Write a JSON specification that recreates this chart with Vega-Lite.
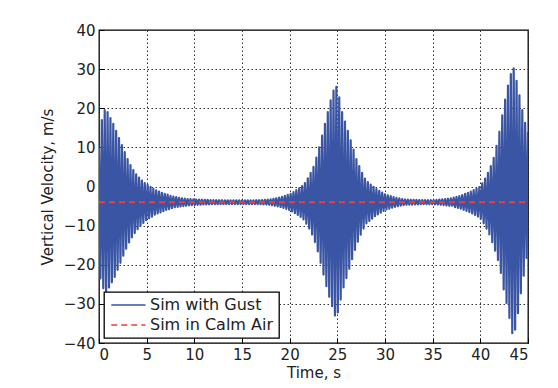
{
  "$schema": "https://vega.github.io/schema/vega-lite/v6.json",
  "width": 429,
  "height": 313,
  "autosize": {"type": "none"},
  "padding": {"left": 99, "top": 30, "right": 30, "bottom": 45},
  "background": "white",
  "config": {
    "font": "DejaVu Sans",
    "view": {"stroke": "#000", "strokeWidth": 1.3},
    "axis": {
      "grid": true, "gridColor": "#333", "gridDash": [1.5, 2.5], "gridOpacity": 1, "gridWidth": 1,
      "domain": false, "ticks": true, "tickColor": "#000", "tickSize": -5, "tickWidth": 1, "labelOverlap": false,
      "labelFont": "DejaVu Sans", "labelFontSize": 15, "labelColor": "#222",
      "titleFont": "DejaVu Sans", "titleFontSize": 15, "titleFontWeight": "normal", "titleColor": "#222"
    },
    "legend": {
      "orient": "bottom-left", "offset": 5, "fillColor": "white", "strokeColor": "#000", "strokeWidth": 1.3,
      "padding": 5, "labelFont": "DejaVu Sans", "labelFontSize": 16, "labelColor": "#222",
      "symbolType": "M-1,0H5", "symbolSize": 130, "symbolStrokeWidth": 1.6, "labelOffset": 25, "rowPadding": 4, "cornerRadius": 0
    }
  },
  "datasets": {
    "gust": [
      {"t":0,"v":10},{"t":0.15,"v":-23.5},{"t":0.3,"v":17},{"t":0.45,"v":-26},{"t":0.6,"v":19.5},{"t":0.75,"v":-26.8},{"t":0.9,"v":19},{"t":1.05,"v":-25.8},{"t":1.2,"v":17.5},{"t":1.35,"v":-24.5},
      {"t":1.5,"v":16},{"t":1.65,"v":-23.1},{"t":1.8,"v":14.2},{"t":1.95,"v":-21.3},{"t":2.1,"v":12.4},{"t":2.25,"v":-19.5},{"t":2.4,"v":10.6},{"t":2.55,"v":-17.7},{"t":2.7,"v":8.8},{"t":2.85,"v":-15.9},
      {"t":3,"v":7},{"t":3.15,"v":-14.3},{"t":3.3,"v":5.5},{"t":3.45,"v":-13},{"t":3.6,"v":4.2},{"t":3.75,"v":-11.9},{"t":3.9,"v":3.1},{"t":4.05,"v":-10.9},{"t":4.2,"v":2.3},{"t":4.35,"v":-10.1},
      {"t":4.5,"v":1.5},{"t":4.65,"v":-9.3},{"t":4.8,"v":0.9},{"t":4.95,"v":-8.6},{"t":5.1,"v":0.4},{"t":5.25,"v":-8.1},{"t":5.4,"v":-0.1},{"t":5.55,"v":-7.7},{"t":5.7,"v":-0.6},{"t":5.85,"v":-7.2},
      {"t":6,"v":-1},{"t":6.15,"v":-6.9},{"t":6.3,"v":-1.3},{"t":6.45,"v":-6.6},{"t":6.6,"v":-1.6},{"t":6.75,"v":-6.3},{"t":6.9,"v":-1.9},{"t":7.05,"v":-6},{"t":7.2,"v":-2.1},{"t":7.35,"v":-5.8},
      {"t":7.5,"v":-2.4},{"t":7.65,"v":-5.5},{"t":7.8,"v":-2.6},{"t":7.95,"v":-5.3},{"t":8.1,"v":-2.7},{"t":8.25,"v":-5.2},{"t":8.4,"v":-2.9},{"t":8.55,"v":-5.1},{"t":8.7,"v":-3},{"t":8.85,"v":-5},
      {"t":9,"v":-3.1},{"t":9.15,"v":-4.9},{"t":9.3,"v":-3.2},{"t":9.45,"v":-4.8},{"t":9.6,"v":-3.2},{"t":9.75,"v":-4.75},{"t":9.9,"v":-3.3},{"t":10.05,"v":-4.7},{"t":10.2,"v":-3.32},{"t":10.35,"v":-4.68},
      {"t":10.5,"v":-3.35},{"t":10.65,"v":-4.65},{"t":10.8,"v":-3.38},{"t":10.95,"v":-4.6},{"t":11.1,"v":-3.4},{"t":11.25,"v":-4.58},{"t":11.4,"v":-3.44},{"t":11.55,"v":-4.55},{"t":11.7,"v":-3.47},{"t":11.85,"v":-4.52},
      {"t":12,"v":-3.5},{"t":12.15,"v":-4.5},{"t":12.3,"v":-3.5},{"t":12.45,"v":-4.5},{"t":12.6,"v":-3.51},{"t":12.75,"v":-4.49},{"t":12.9,"v":-3.51},{"t":13.05,"v":-4.49},{"t":13.2,"v":-3.52},{"t":13.35,"v":-4.48},
      {"t":13.5,"v":-3.52},{"t":13.65,"v":-4.48},{"t":13.8,"v":-3.52},{"t":13.95,"v":-4.48},{"t":14.1,"v":-3.53},{"t":14.25,"v":-4.47},{"t":14.4,"v":-3.53},{"t":14.55,"v":-4.47},{"t":14.7,"v":-3.53},{"t":14.85,"v":-4.47},
      {"t":15,"v":-3.53},{"t":15.15,"v":-4.47},{"t":15.3,"v":-3.53},{"t":15.45,"v":-4.47},{"t":15.6,"v":-3.52},{"t":15.75,"v":-4.48},{"t":15.9,"v":-3.52},{"t":16.05,"v":-4.48},{"t":16.2,"v":-3.52},{"t":16.35,"v":-4.48},
      {"t":16.5,"v":-3.51},{"t":16.65,"v":-4.49},{"t":16.8,"v":-3.5},{"t":16.95,"v":-4.5},{"t":17.1,"v":-3.48},{"t":17.25,"v":-4.55},{"t":17.4,"v":-3.42},{"t":17.55,"v":-4.61},{"t":17.7,"v":-3.36},{"t":17.85,"v":-4.67},
      {"t":18,"v":-3.3},{"t":18.15,"v":-4.78},{"t":18.3,"v":-3.15},{"t":18.45,"v":-4.93},{"t":18.6,"v":-3},{"t":18.75,"v":-5.08},{"t":18.9,"v":-2.85},{"t":19.05,"v":-5.24},{"t":19.2,"v":-2.64},{"t":19.35,"v":-5.48},
      {"t":19.5,"v":-2.4},{"t":19.65,"v":-5.72},{"t":19.8,"v":-2.16},{"t":19.95,"v":-5.96},{"t":20.1,"v":-1.85},{"t":20.25,"v":-6.38},{"t":20.4,"v":-1.4},{"t":20.55,"v":-6.83},{"t":20.7,"v":-0.95},{"t":20.85,"v":-7.28},
      {"t":21,"v":-0.5},{"t":21.15,"v":-7.8},{"t":21.3,"v":0.1},{"t":21.45,"v":-8.4},{"t":21.6,"v":0.9},{"t":21.75,"v":-9.5},{"t":21.9,"v":2.1},{"t":22.05,"v":-10.75},{"t":22.2,"v":3.5},{"t":22.35,"v":-12.25},
      {"t":22.5,"v":5},{"t":22.65,"v":-14.2},{"t":22.8,"v":7.4},{"t":22.95,"v":-16.6},{"t":23.1,"v":10},{"t":23.25,"v":-19.5},{"t":23.4,"v":13},{"t":23.55,"v":-22.5},{"t":23.7,"v":16},{"t":23.85,"v":-25.5},
      {"t":24,"v":19},{"t":24.15,"v":-28.2},{"t":24.3,"v":22},{"t":24.45,"v":-30.6},{"t":24.6,"v":24.5},{"t":24.75,"v":-33},{"t":24.9,"v":25.5},{"t":25.05,"v":-32.2},{"t":25.2,"v":22.8},{"t":25.35,"v":-28.9},
      {"t":25.5,"v":19},{"t":25.65,"v":-25.8},{"t":25.8,"v":16.6},{"t":25.95,"v":-23.4},{"t":26.1,"v":14.2},{"t":26.25,"v":-21},{"t":26.4,"v":11.8},{"t":26.55,"v":-18.6},{"t":26.7,"v":9.4},{"t":26.85,"v":-16.2},
      {"t":27,"v":7},{"t":27.15,"v":-14.1},{"t":27.3,"v":5.2},{"t":27.45,"v":-12.3},{"t":27.6,"v":3.5},{"t":27.75,"v":-10.75},{"t":27.9,"v":2},{"t":28.05,"v":-9.4},{"t":28.2,"v":1.1},{"t":28.35,"v":-8.8},
      {"t":28.5,"v":0.5},{"t":28.65,"v":-8.2},{"t":28.8,"v":-0.1},{"t":28.95,"v":-7.6},{"t":29.1,"v":-0.65},{"t":29.25,"v":-7.13},{"t":29.4,"v":-1.1},{"t":29.55,"v":-6.68},{"t":29.7,"v":-1.55},{"t":29.85,"v":-6.23},
      {"t":30,"v":-2},{"t":30.15,"v":-5.88},{"t":30.3,"v":-2.24},{"t":30.45,"v":-5.64},{"t":30.6,"v":-2.48},{"t":30.75,"v":-5.4},{"t":30.9,"v":-2.72},{"t":31.05,"v":-5.18},{"t":31.2,"v":-2.9},{"t":31.35,"v":-5.03},
      {"t":31.5,"v":-3.05},{"t":31.65,"v":-4.88},{"t":31.8,"v":-3.2},{"t":31.95,"v":-4.73},{"t":32.1,"v":-3.31},{"t":32.25,"v":-4.68},{"t":32.4,"v":-3.34},{"t":32.55,"v":-4.65},{"t":32.7,"v":-3.37},{"t":32.85,"v":-4.62},
      {"t":33,"v":-3.4},{"t":33.15,"v":-4.58},{"t":33.3,"v":-3.43},{"t":33.45,"v":-4.55},{"t":33.6,"v":-3.46},{"t":33.75,"v":-4.52},{"t":33.9,"v":-3.49},{"t":34.05,"v":-4.5},{"t":34.2,"v":-3.5},{"t":34.35,"v":-4.5},
      {"t":34.5,"v":-3.5},{"t":34.65,"v":-4.5},{"t":34.8,"v":-3.5},{"t":34.95,"v":-4.5},{"t":35.1,"v":-3.48},{"t":35.25,"v":-4.55},{"t":35.4,"v":-3.42},{"t":35.55,"v":-4.61},{"t":35.7,"v":-3.36},{"t":35.85,"v":-4.67},
      {"t":36,"v":-3.3},{"t":36.15,"v":-4.75},{"t":36.3,"v":-3.21},{"t":36.45,"v":-4.84},{"t":36.6,"v":-3.12},{"t":36.75,"v":-4.93},{"t":36.9,"v":-3.03},{"t":37.05,"v":-5.04},{"t":37.2,"v":-2.86},{"t":37.35,"v":-5.25},
      {"t":37.5,"v":-2.65},{"t":37.65,"v":-5.46},{"t":37.8,"v":-2.44},{"t":37.95,"v":-5.67},{"t":38.1,"v":-2.2},{"t":38.25,"v":-5.95},{"t":38.4,"v":-1.9},{"t":38.55,"v":-6.25},{"t":38.7,"v":-1.6},{"t":38.85,"v":-6.55},
      {"t":39,"v":-1.3},{"t":39.15,"v":-6.9},{"t":39.3,"v":-0.91},{"t":39.45,"v":-7.29},{"t":39.6,"v":-0.52},{"t":39.75,"v":-7.68},{"t":39.9,"v":-0.13},{"t":40.05,"v":-8.2},{"t":40.2,"v":0.8},{"t":40.35,"v":-9.4},
      {"t":40.5,"v":2},{"t":40.65,"v":-10.75},{"t":40.8,"v":3.5},{"t":40.95,"v":-12.25},{"t":41.1,"v":5.2},{"t":41.25,"v":-14.25},{"t":41.4,"v":7.3},{"t":41.55,"v":-16.4},{"t":41.7,"v":10.4},{"t":41.85,"v":-18.8},
      {"t":42,"v":14},{"t":42.15,"v":-22.1},{"t":42.3,"v":18.2},{"t":42.45,"v":-26.3},{"t":42.6,"v":22.2},{"t":42.75,"v":-30},{"t":42.9,"v":25.8},{"t":43.05,"v":-33.6},{"t":43.2,"v":28.7},{"t":43.35,"v":-37.5},
      {"t":43.5,"v":30.2},{"t":43.65,"v":-36.6},{"t":43.8,"v":27},{"t":43.95,"v":-32.4},{"t":44.1,"v":23.3},{"t":44.25,"v":-27.3},{"t":44.4,"v":19.5},{"t":44.55,"v":-22.8},{"t":44.7,"v":16.3},{"t":44.85,"v":-18.3},
      {"t":45,"v":14}
    ],
    "calm": [{"t":0,"v":-4},{"t":45,"v":-4}]
  },
  "encoding": {
    "x": {"field": "t", "type": "quantitative", "scale": {"domain": [0, 45], "nice": false},
          "axis": {"values": [0,5,10,15,20,25,30,35,40,45], "title": "Time, s", "labelPadding": 9, "titlePadding": 3, "labelOverlap": false}},
    "y": {"field": "v", "type": "quantitative", "scale": {"domain": [-40, 40], "nice": false},
          "axis": {"values": [-40,-30,-20,-10,0,10,20,30,40], "tickCount": 9, "title": "Vertical Velocity, m/s", "labelPadding": 9, "titlePadding": 8, "labelOverlap": false, "labelSeparation": 0, "labelFlush": false, "labelExpr": "datum.label"}}
  },
  "layer": [
    {
      "data": {"name": "gust"},
      "mark": {"type": "line", "strokeWidth": 2.2, "strokeJoin": "round", "clip": true},
      "encoding": {
        "color": {"datum": "Sim with Gust", "scale": {"domain": ["Sim with Gust", "Sim in Calm Air"], "range": ["#3a55a4", "#e8403f"]}, "legend": {"title": null}},
        "strokeDash": {"datum": "Sim with Gust", "scale": {"domain": ["Sim with Gust", "Sim in Calm Air"], "range": [[1, 0], [6, 4]]}, "legend": {"title": null}}
      }
    },
    {
      "data": {"name": "calm"},
      "mark": {"type": "line", "strokeWidth": 2},
      "encoding": {
        "color": {"datum": "Sim in Calm Air"},
        "strokeDash": {"datum": "Sim in Calm Air"}
      }
    }
  ]
}
